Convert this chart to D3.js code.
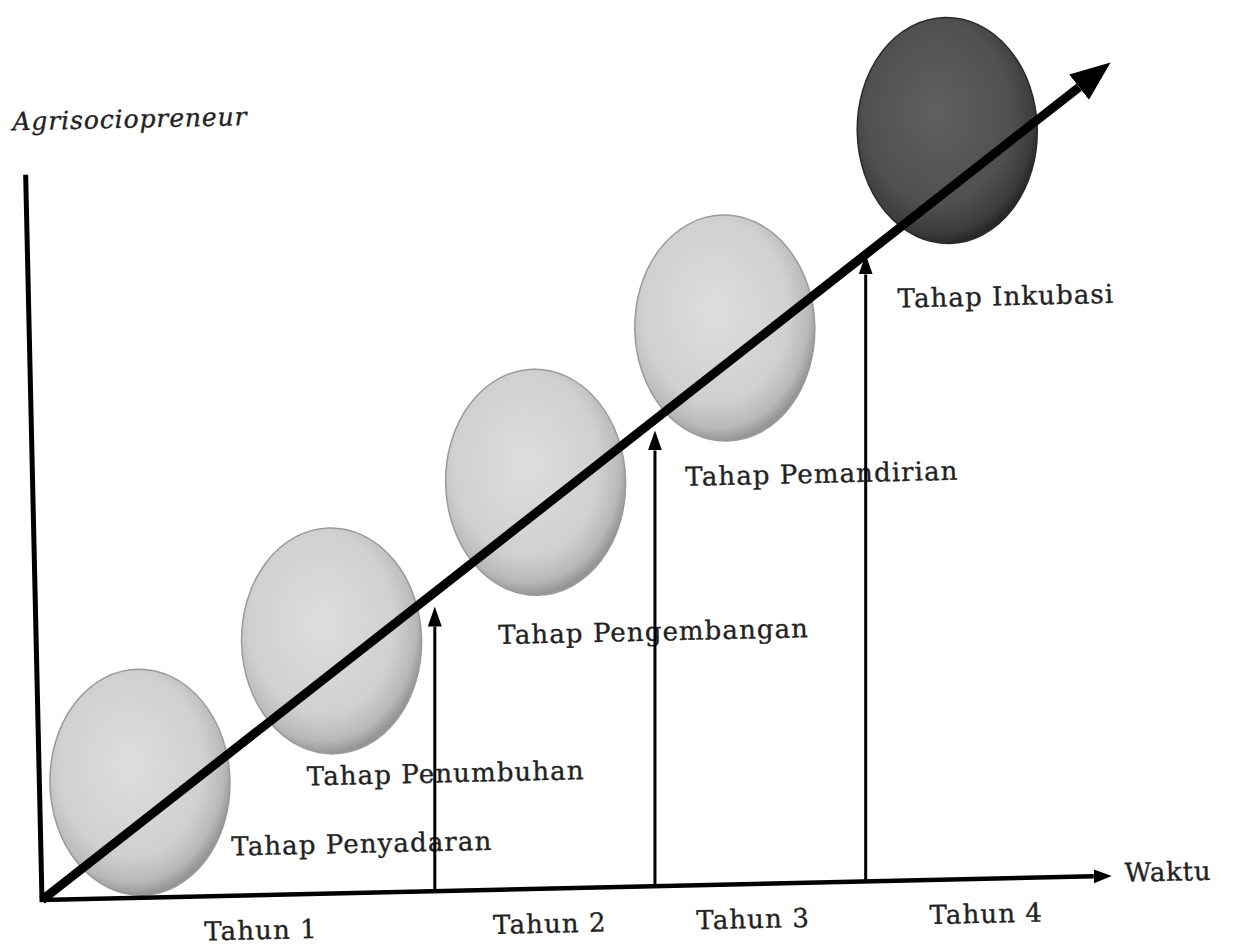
<!DOCTYPE html>
<html>
<head>
<meta charset="utf-8">
<script src="https://cdn.jsdelivr.net/npm/d3@7"></script>
<style>
  body { margin: 0; background: #fff; }
  text { font-family: "DejaVu Serif", serif; fill: #222; stroke: #222; stroke-width: 0.35px; }
</style>
</head>
<body>
<div id="chart-div"></div>
<script>
// Script globals
const CHART_WIDTH = 1235
const CHART_HEIGHT = 947
const TILT = -1.29

// stages (ellipse centres and label anchors, in time / level units)
const stages = ["Tahap Penyadaran", "Tahap Penumbuhan", "Tahap Pengembangan", "Tahap Pemandirian", "Tahap Inkubasi"]
const stageX = [0.47, 1.38, 2.35, 3.25, 4.31]
const stageY = [0.54, 1.18, 1.90, 2.60, 3.50]
const stageDark = [false, false, false, false, true]
const labelX = [0.89, 1.25, 2.16, 3.05, 4.06]
const labelY = [0.23, 0.55, 1.19, 1.91, 2.72]

// years along the time axis
const years = ["Tahun 1", "Tahun 2", "Tahun 3", "Tahun 4"]
const yearX = [1.02, 2.37, 3.32, 4.41]

// vertical milestone arrows
const milestoneX = [1.836, 2.865, 3.85]
const milestoneTop = [1.33, 2.13, 2.93]

// axes and trend arrow
const xAxisEnd = 5.0
const yAxisTop = 3.39
const trendEnd = [5.08, 3.80]
const yTitle = "Agrisociopreneur"
const xTitle = "Waktu"

init();

function init () {
  const svg = d3.select("#chart-div").append("svg")
    .attr("width", CHART_WIDTH)
    .attr("height", CHART_HEIGHT)

  const defs = svg.append("defs")

  // shading for the stage ellipses
  const light = defs.append("radialGradient").attr("id", "lightBall")
    .attr("cx", "45%").attr("cy", "42%").attr("r", "58%")
  light.append("stop").attr("offset", "0%").attr("stop-color", "#dedede")
  light.append("stop").attr("offset", "70%").attr("stop-color", "#d0d0d0")
  light.append("stop").attr("offset", "90%").attr("stop-color", "#b8b8b8")
  light.append("stop").attr("offset", "100%").attr("stop-color", "#959595")

  const dark = defs.append("radialGradient").attr("id", "darkBall")
    .attr("cx", "45%").attr("cy", "42%").attr("r", "58%")
  dark.append("stop").attr("offset", "0%").attr("stop-color", "#606060")
  dark.append("stop").attr("offset", "70%").attr("stop-color", "#505050")
  dark.append("stop").attr("offset", "92%").attr("stop-color", "#3c3c3c")
  dark.append("stop").attr("offset", "100%").attr("stop-color", "#282828")

  // arrow heads
  defs.append("marker").attr("id", "bigHead")
    .attr("markerUnits", "userSpaceOnUse")
    .attr("viewBox", "0 -18 40 36")
    .attr("markerWidth", 40).attr("markerHeight", 36)
    .attr("refX", 0).attr("refY", 0)
    .attr("orient", "auto")
    .append("path").attr("d", "M0,-16 L40,0 L0,16 Z").attr("fill", "#000")

  defs.append("marker").attr("id", "smallHead")
    .attr("markerUnits", "userSpaceOnUse")
    .attr("viewBox", "0 -8 20 16")
    .attr("markerWidth", 20).attr("markerHeight", 16)
    .attr("refX", 0).attr("refY", 0)
    .attr("orient", "auto")
    .append("path").attr("d", "M0,-7 L20,0 L0,7 Z").attr("fill", "#000")

  defs.append("marker").attr("id", "axisHead")
    .attr("markerUnits", "userSpaceOnUse")
    .attr("viewBox", "0 -8 20 16")
    .attr("markerWidth", 20).attr("markerHeight", 16)
    .attr("refX", 0).attr("refY", 0)
    .attr("orient", "auto")
    .append("path").attr("d", "M0,-7 L18,0 L0,7 Z").attr("fill", "#000")

  draw(svg)
}

function draw (svg) {
  // Scales: time to the right, level upwards (origin at the axis corner)
  const x = d3.scaleLinear().domain([0, 5]).range([0, 1070])
  const y = d3.scaleLinear().domain([0, 4]).range([0, -856])

  // the scanned figure is tilted a little
  const g = svg.append("g").attr("transform", `translate(42,900) rotate(${TILT})`)

  // stage ellipses
  const stageData = stages.map((s, i) => ({ name: s, x: stageX[i], y: stageY[i], dark: stageDark[i], lx: labelX[i], ly: labelY[i] }))
  g.selectAll("ellipse.stage")
    .data(stageData)
    .enter().append("ellipse")
      .attr("class", "stage")
      .attr("cx", d => x(d.x))
      .attr("cy", d => y(d.y))
      .attr("rx", 90)
      .attr("ry", 113)
      .attr("fill", d => d.dark ? "url(#darkBall)" : "url(#lightBall)")
      .attr("stroke", d => d.dark ? "#2a2a2a" : "#9a9a9a")
      .attr("stroke-width", 1.5)

  // axes
  g.append("line")
    .attr("x1", x(0)).attr("y1", y(0) + 2)
    .attr("x2", x(0)).attr("y2", y(yAxisTop))
    .attr("stroke", "#000").attr("stroke-width", 5)

  g.append("line")
    .attr("x1", x(0) - 2).attr("y1", y(0))
    .attr("x2", x(xAxisEnd) - 18).attr("y2", y(0))
    .attr("stroke", "#000").attr("stroke-width", 4.5)
    .attr("marker-end", "url(#axisHead)")

  // stage labels
  g.selectAll("text.stage")
    .data(stageData)
    .enter().append("text")
      .attr("class", "stage")
      .attr("x", d => x(d.lx))
      .attr("y", d => y(d.ly))
      .attr("dy", "0.35em")
      .style("font-size", "26px")
      .style("letter-spacing", "1.1px")
      .text(d => d.name)

  // year labels
  g.selectAll("text.year")
    .data(years)
    .enter().append("text")
      .attr("class", "year")
      .attr("x", (d, i) => x(yearX[i]))
      .attr("y", y(0) + 35)
      .attr("dy", "0.35em")
      .attr("text-anchor", "middle")
      .style("font-size", "26px")
      .style("letter-spacing", "1.1px")
      .text(d => d)

  // milestone arrows, upright on the page
  g.selectAll("line.milestone")
    .data(milestoneX)
    .enter().append("line")
      .attr("class", "milestone")
      .attr("transform", d => `rotate(${-TILT},${x(d)},${y(0)})`)
      .attr("x1", d => x(d)).attr("y1", y(0))
      .attr("x2", d => x(d)).attr("y2", (d, i) => y(milestoneTop[i]) + 20)
      .attr("stroke", "#000").attr("stroke-width", 3)
      .attr("marker-end", "url(#smallHead)")

  // trend arrow (shortened so the head tip lands on trendEnd)
  const tx = x(trendEnd[0]), ty = y(trendEnd[1])
  const len = Math.hypot(tx, ty)
  g.append("line")
    .attr("x1", x(0)).attr("y1", y(0))
    .attr("x2", tx - 40 * tx / len).attr("y2", ty - 40 * ty / len)
    .attr("stroke", "#000").attr("stroke-width", 9)
    .attr("marker-end", "url(#bigHead)")

  // axis titles
  g.append("text")
    .attr("x", x(0) - 12)
    .attr("y", y(3.64))
    .attr("dy", "0.35em")
    .style("font-size", "25px")
    .style("font-style", "italic")
    .style("letter-spacing", "0.9px")
    .text(yTitle)

  g.append("text")
    .attr("x", x(5.06))
    .attr("y", y(0) - 3)
    .attr("dy", "0.35em")
    .style("font-size", "26px")
    .style("letter-spacing", "0.8px")
    .text(xTitle)
}
</script>
</body>
</html>
